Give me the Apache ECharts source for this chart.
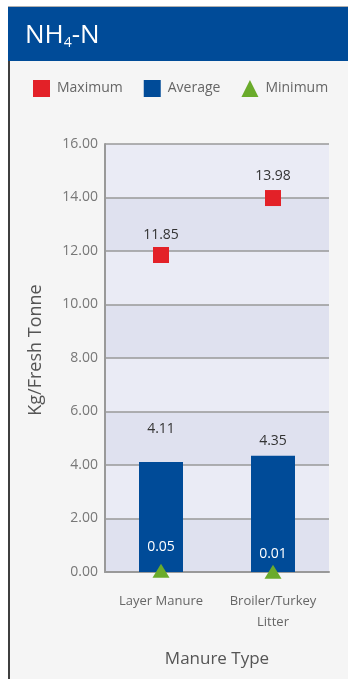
<!DOCTYPE html>
<html>
<head>
<meta charset="utf-8">
<style>
  html, body { margin: 0; padding: 0; background: #ffffff; }
  #chart { width: 348px; height: 679px; }
</style>
<script src="https://cdn.jsdelivr.net/npm/echarts@6/dist/echarts.min.js"></script>
</head>
<body>
<div id="chart"></div>
<script>
// NH4-N content by manure type (kg per fresh tonne)
const categories = ['Layer Manure', 'Broiler/Turkey\nLitter'];
const maximumValues = [11.85, 13.98];
const averageValues = [4.11, 4.35];
const minimumValues = [0.05, 0.01];
const yTicks = { min: 0, max: 16, interval: 2 };

const FONT = '"Open Sans", "Noto Sans", sans-serif';
const BLUE = '#004b98';
const RED = '#e32128';
const GREEN = '#6aab2b';

// per-point label distances for the average bars and the marker labels
const avgLabelDist = [26, 8];
const minLabelOffset = [-24, -18];
const maxLabelOffset = [-20, -22];

const chart = echarts.init(document.getElementById('chart'), null, { renderer: 'canvas' });

chart.setOption({
  animation: false,
  textStyle: { fontFamily: FONT },
  graphic: [
    { type: 'rect', z: -10, shape: { x: 8, y: 61, width: 340, height: 618 }, style: { fill: '#f5f5f5' } },
    { type: 'rect', z: -9, shape: { x: 8, y: 61, width: 2, height: 618 }, style: { fill: '#3f3f3f' } },
    { type: 'rect', z: -9, shape: { x: 8, y: 6, width: 340, height: 1 }, style: { fill: '#b0b0b0' } },
    { type: 'rect', z: -9, shape: { x: 8, y: 7, width: 340, height: 54 }, style: { fill: BLUE } }
  ],
  title: {
    left: 20,
    top: 16,
    text: '{a|NH}{b|4}{a|-N}',
    textStyle: {
      fontWeight: 'normal',
      rich: {
        a: { fontFamily: FONT, fontSize: 26, fontWeight: 'normal', color: '#ffffff', lineHeight: 30 },
        b: { fontFamily: FONT, fontSize: 14, fontWeight: 'normal', color: '#ffffff', lineHeight: 30, padding: [14, 0, 0, 0] }
      }
    }
  },
  legend: {
    left: 28,
    top: 75,
    itemWidth: 17,
    itemHeight: 17,
    itemGap: 21,
    textStyle: { fontFamily: FONT, fontSize: 14, color: '#666666', padding: [0, 0, 0, 2] },
    data: [
      { name: 'Maximum', icon: 'rect' },
      { name: 'Average', icon: 'rect' },
      { name: 'Minimum', icon: 'triangle' }
    ]
  },
  grid: { left: 105, right: 19, top: 144, bottom: 107, containLabel: false },
  xAxis: {
    type: 'category',
    data: categories,
    axisLine: { lineStyle: { color: '#999999', width: 2 } },
    axisTick: { show: false },
    axisLabel: { interval: 0, color: '#666666', fontSize: 13, margin: 19, lineHeight: 21, fontFamily: FONT },
    name: 'Manure Type',
    nameLocation: 'middle',
    nameGap: 79,
    nameTextStyle: { color: '#555555', fontSize: 17, fontFamily: FONT }
  },
  yAxis: {
    type: 'value',
    min: yTicks.min,
    max: yTicks.max,
    interval: yTicks.interval,
    axisLine: { show: true, lineStyle: { color: '#999999', width: 2 } },
    axisTick: { show: false },
    axisLabel: {
      color: '#777777', fontSize: 14, margin: 7, fontFamily: FONT,
      formatter: v => v.toFixed(2)
    },
    splitLine: { lineStyle: { color: '#999999', width: 1.5 } },
    splitArea: { show: true, areaStyle: { color: ['#dfe1ef', '#eaebf5'] } },
    name: 'Kg/Fresh Tonne',
    nameLocation: 'middle',
    nameGap: 60,
    nameTextStyle: { color: '#555555', fontSize: 18, fontFamily: FONT, padding: [0, 0, 0, 16] }
  },
  series: [
    {
      name: 'Average',
      type: 'bar',
      barWidth: 44,
      itemStyle: { color: BLUE },
      data: averageValues.map((v, i) => ({
        value: v,
        label: {
          show: true, position: 'top', distance: avgLabelDist[i],
          color: '#333333', fontSize: 14, fontFamily: FONT,
          formatter: p => p.value.toFixed(2)
        }
      }))
    },
    {
      name: 'Maximum',
      type: 'scatter',
      symbol: 'rect',
      symbolSize: 16,
      itemStyle: { color: RED, opacity: 1 },
      data: maximumValues.map((v, i) => ({
        value: v,
        label: {
          show: true, position: 'inside', offset: [0, maxLabelOffset[i]],
          color: '#333333', fontSize: 14, fontFamily: FONT,
          formatter: p => p.value.toFixed(2)
        }
      }))
    },
    {
      name: 'Minimum',
      type: 'scatter',
      symbol: 'triangle',
      symbolSize: [17, 14],
      itemStyle: { color: GREEN, opacity: 1 },
      data: minimumValues.map((v, i) => ({
        value: v,
        label: {
          show: true, position: 'inside', offset: [0, minLabelOffset[i]],
          color: '#ffffff', fontSize: 14, fontFamily: FONT,
          formatter: p => p.value.toFixed(2)
        }
      }))
    }
  ]
});
</script>
</body>
</html>
